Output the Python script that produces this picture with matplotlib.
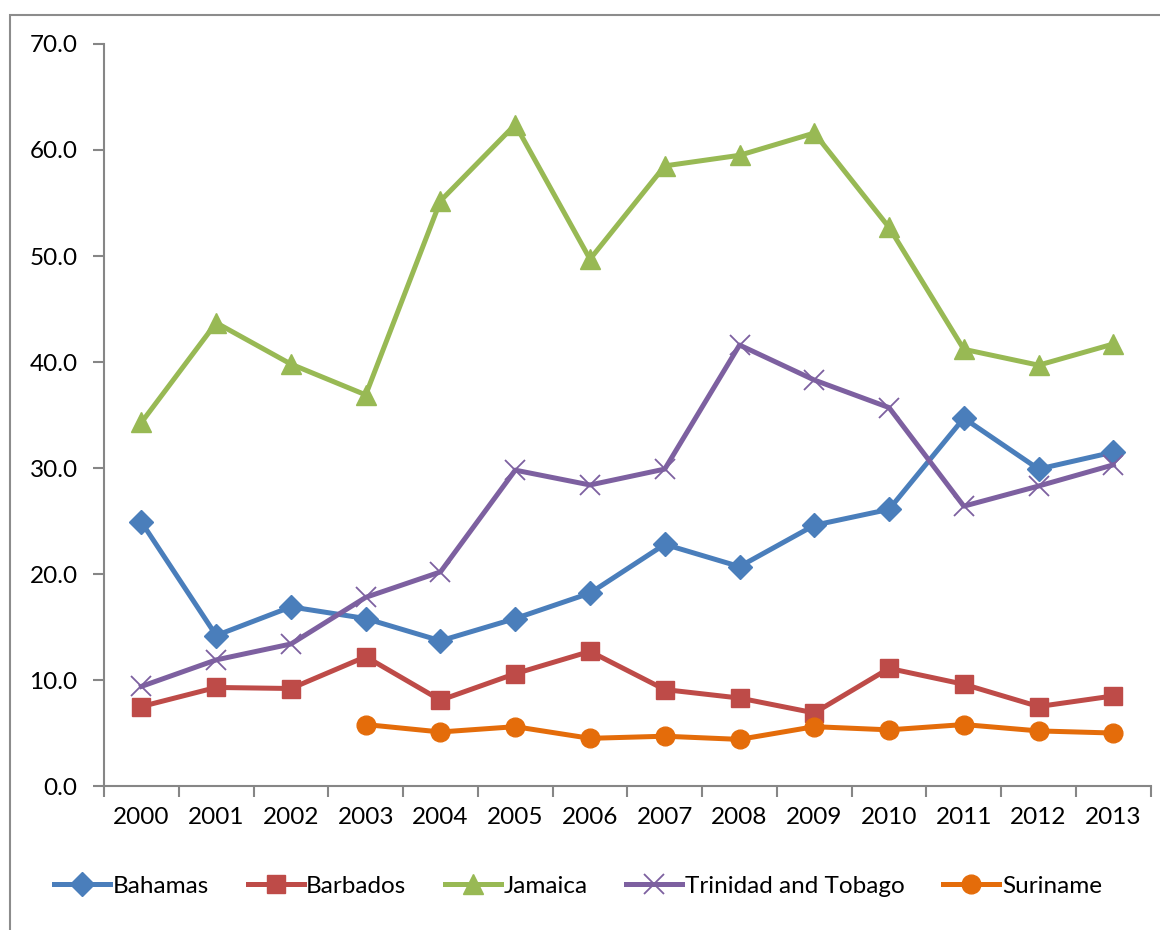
import numpy as np
import matplotlib.pyplot as plt
from matplotlib.patches import Rectangle

years = ['2000', '2001', '2002', '2003', '2004', '2005', '2006',
         '2007', '2008', '2009', '2010', '2011', '2012', '2013']

bahamas = [24.9, 14.2, 16.9, 15.8, 13.7, 15.8, 18.2, 22.8, 20.7, 24.6, 26.1, 34.7, 29.9, 31.5]
barbados = [7.5, 9.3, 9.2, 12.2, 8.1, 10.6, 12.7, 9.1, 8.3, 6.9, 11.1, 9.6, 7.5, 8.5]
jamaica = [34.3, 43.7, 39.8, 36.9, 55.2, 62.4, 49.7, 58.5, 59.5, 61.6, 52.7, 41.2, 39.7, 41.7]
trinidad = [9.4, 11.9, 13.4, 17.8, 20.2, 29.8, 28.4, 29.9, 41.6, 38.3, 35.7, 26.4, 28.3, 30.3]
suriname = [np.nan, np.nan, np.nan, 5.8, 5.1, 5.6, 4.5, 4.7, 4.4, 5.6, 5.3, 5.8, 5.2, 5.0]

plt.rcParams['font.family'] = ['Lato', 'DejaVu Sans']
fs = 17.5

fig = plt.figure(figsize=(11.6, 9.3), dpi=100)
ax = fig.add_axes([0.0897, 0.1548, 0.9023, 0.7979])

# chart frame
fig.patches.append(Rectangle((10 / 1160, -0.1), 1.2, 1 - 15 / 930 + 0.1,
                             transform=fig.transFigure, fill=False,
                             edgecolor='#8c8c8c', linewidth=1.5))

x = np.arange(len(years))
lw = 3.6
ax.plot(x, bahamas, color='#4A7EBB', lw=lw, marker='D', ms=12, label='Bahamas')
ax.plot(x, barbados, color='#BE4B48', lw=lw, marker='s', ms=13.5, label='Barbados')
ax.plot(x, jamaica, color='#98B954', lw=lw, marker='^', ms=14.5, label='Jamaica')
ax.plot(x, trinidad, color='#7D60A0', lw=lw, marker='x', ms=14, mew=1.3,
        label='Trinidad and Tobago')
ax.plot(x, suriname, color='#E46C0A', lw=lw, marker='o', ms=13.5, label='Suriname')

ax.set_xlim(-0.5, len(years) - 0.5)
ax.set_ylim(0, 70)
ax.set_yticks(np.arange(0, 71, 10))
ax.set_yticklabels([f'{v:.1f}' for v in np.arange(0, 71, 10)])
ax.set_xticks(x)
ax.set_xticklabels(years)
ax.set_xticks(np.arange(-0.5, len(years), 1), minor=True)
ax.tick_params(axis='x', which='major', length=0, pad=15, labelsize=fs)
ax.tick_params(axis='x', which='minor', length=8, width=1.5, color='#868686', direction='out')
ax.tick_params(axis='y', length=8, width=1.5, color='#868686', direction='out',
               pad=11, labelsize=fs)

for s in ['top', 'right']:
    ax.spines[s].set_visible(False)
for s in ['left', 'bottom']:
    ax.spines[s].set_color('#868686')
    ax.spines[s].set_linewidth(1.5)

fig.legend(*ax.get_legend_handles_labels(), loc='center',
           bbox_to_anchor=(578 / 1160, 1 - 886 / 930), ncol=5, frameon=False,
           fontsize=fs, handlelength=2.3, handletextpad=0.1, columnspacing=1.6,
           borderaxespad=0)

fig.savefig('out.png', dpi=100)
